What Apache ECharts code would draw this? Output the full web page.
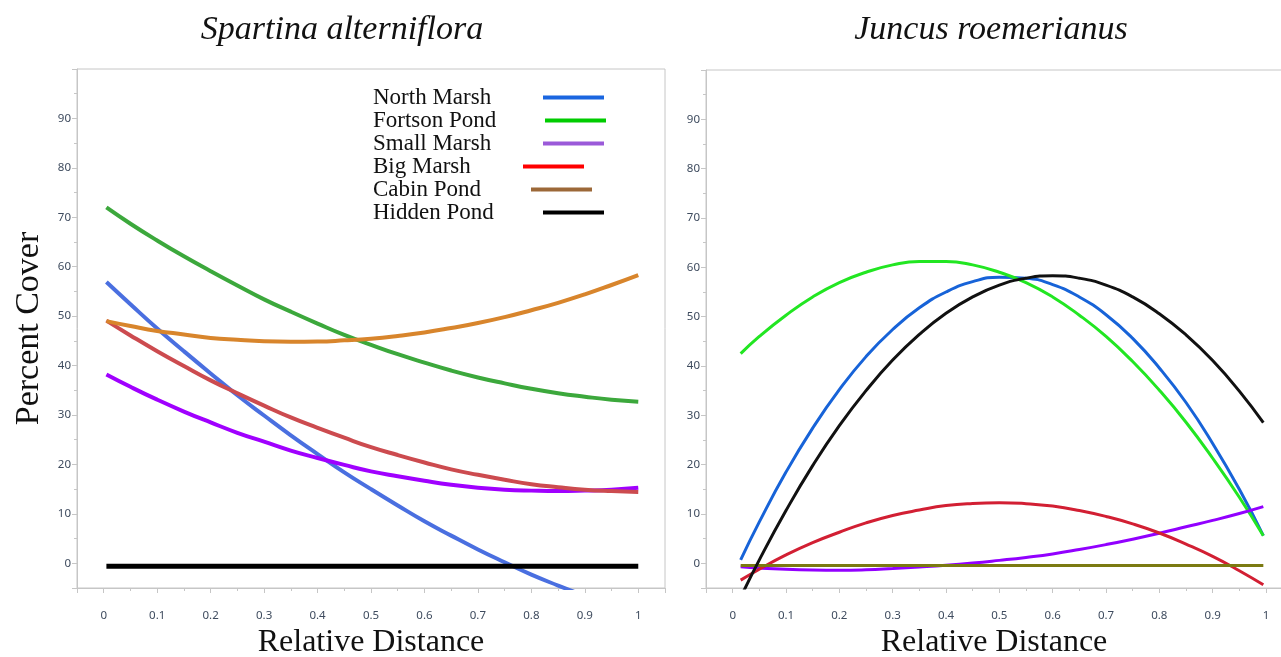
<!DOCTYPE html>
<html>
<head>
<meta charset="utf-8">
<script src="https://cdn.jsdelivr.net/npm/echarts@6/dist/echarts.min.js"></script>
<style>
html,body{margin:0;padding:0;background:#fff;}
#chart{width:1281px;height:657px;}
</style>
</head>
<body>
<div id="chart"></div>
<script>
// ---------- data ----------
const seriesNames = ['North Marsh', 'Fortson Pond', 'Small Marsh', 'Big Marsh', 'Cabin Pond', 'Hidden Pond'];

// Spartina alterniflora (left panel)
const xLeft = [0.005, 0.05, 0.1, 0.15, 0.2, 0.25, 0.3, 0.35, 0.4, 0.45, 0.5, 0.55, 0.6, 0.65, 0.7, 0.75, 0.8, 0.85, 0.9, 0.95, 1.0];
const spartinaNorthMarsh = [56.9, 52.4, 47.5, 42.9, 38.4, 34.0, 29.9, 25.9, 22.1, 18.4, 15.0, 11.7, 8.5, 5.6, 2.8, 0.2, -2.3, -4.5, -6.6, -8.6, -10.3];
const spartinaFortsonPond = [72.0, 68.7, 65.3, 62.1, 59.1, 56.2, 53.4, 50.9, 48.5, 46.2, 44.2, 42.3, 40.6, 39.0, 37.6, 36.4, 35.3, 34.4, 33.7, 33.1, 32.7];
const spartinaSmallMarsh = [38.2, 35.7, 33.1, 30.7, 28.5, 26.4, 24.6, 22.8, 21.3, 19.9, 18.6, 17.6, 16.7, 15.9, 15.3, 14.9, 14.7, 14.6, 14.7, 14.9, 15.3];
const spartinaBigMarsh = [49.1, 46.1, 42.9, 39.9, 37.0, 34.4, 31.9, 29.5, 27.4, 25.4, 23.5, 21.9, 20.4, 19.0, 17.9, 16.9, 16.0, 15.4, 14.9, 14.6, 14.4];
const spartinaCabinPond = [49.0, 48.0, 47.0, 46.3, 45.6, 45.2, 44.9, 44.8, 44.85, 45.1, 45.45, 46.0, 46.7, 47.6, 48.6, 49.8, 51.2, 52.7, 54.4, 56.3, 58.3];
const spartinaHiddenPond = [-0.6, -0.6, -0.6, -0.6, -0.6, -0.6, -0.6, -0.6, -0.6, -0.6, -0.6, -0.6, -0.6, -0.6, -0.6, -0.6, -0.6, -0.6, -0.6, -0.6, -0.6];

// Juncus roemerianus (right panel)
const xRight = [0.015, 0.05, 0.1, 0.15, 0.2, 0.25, 0.3, 0.35, 0.4, 0.45, 0.5, 0.55, 0.6, 0.65, 0.7, 0.75, 0.8, 0.85, 0.9, 0.95, 0.995];
const juncusNorthMarsh = [0.7, 8.4, 18.5, 27.4, 35.2, 41.9, 47.4, 51.8, 55.0, 57.1, 58.0, 57.8, 56.5, 54.0, 50.4, 45.6, 39.6, 32.6, 24.3, 15.0, 5.6];
const juncusFortsonPond = [42.5, 46.0, 50.3, 54.0, 56.9, 59.0, 60.5, 61.2, 61.2, 60.5, 59.0, 56.9, 54.0, 50.3, 46.0, 40.9, 35.1, 28.6, 21.3, 13.4, 5.6];
const juncusSmallMarsh = [-0.7, -0.95, -1.2, -1.35, -1.4, -1.3, -1.05, -0.75, -0.4, 0.05, 0.6, 1.2, 1.9, 2.8, 3.8, 4.9, 6.1, 7.4, 8.7, 10.1, 11.5];
const juncusBigMarsh = [-3.4, -1.2, 1.7, 4.2, 6.3, 8.2, 9.7, 10.8, 11.7, 12.15, 12.3, 12.1, 11.6, 10.7, 9.5, 8.0, 6.15, 3.9, 1.4, -1.5, -4.35];
const juncusCabinPond = [-0.45, -0.45, -0.45, -0.45, -0.45, -0.45, -0.45, -0.45, -0.45, -0.45, -0.45, -0.45, -0.45, -0.45, -0.45, -0.45, -0.45, -0.45, -0.45, -0.45, -0.45];
const juncusHiddenPond = [-6.9, 0.7, 10.7, 19.8, 27.9, 35.0, 41.2, 46.4, 50.7, 54.0, 56.4, 57.8, 58.3, 57.8, 56.4, 54.0, 50.6, 46.3, 41.1, 34.9, 28.5];

const panelTitles = ['Spartina alterniflora', 'Juncus roemerianus'];
const xAxisTitle = 'Relative Distance';
const yAxisTitle = 'Percent Cover';

// ---------- styling ----------
const leftColors = ['#4a6fe0', '#3ca83c', '#a000ff', '#cc4b4f', '#d8852c', '#000000'];
const rightColors = ['#1763d8', '#22e622', '#9200ff', '#d21f33', '#7b7a12', '#111111'];
const legendColors = ['#1a66e0', '#00cc00', '#9b5ad9', '#ff0000', '#9c6838', '#000000'];
const legendTextWidths = [170, 172, 170, 150, 158, 170];

const leftData = [spartinaNorthMarsh, spartinaFortsonPond, spartinaSmallMarsh, spartinaBigMarsh, spartinaCabinPond, spartinaHiddenPond];
const rightData = [juncusNorthMarsh, juncusFortsonPond, juncusSmallMarsh, juncusBigMarsh, juncusCabinPond, juncusHiddenPond];

const zip = (xs, ys) => xs.map((x, i) => [x, ys[i]]);

const axisColor = '#c6c6c6';
const labelColor = '#3e4b5e';
const labelFont = 'Noto Sans';

function makeX(gridIndex, maxVal) {
  return {
    type: 'value', gridIndex: gridIndex, min: -0.05, max: maxVal, splitNumber: 11,
    name: xAxisTitle, nameLocation: 'middle', nameGap: 39,
    nameTextStyle: {fontFamily: 'Liberation Serif', fontSize: 32, color: '#111'},
    axisLine: {show: true, onZero: false, lineStyle: {color: axisColor}},
    axisTick: {show: true, length: 5, lineStyle: {color: axisColor}},
    minorTick: {show: true, splitNumber: 2, length: 3, lineStyle: {color: axisColor}},
    splitLine: {show: false}, minorSplitLine: {show: false},
    axisLabel: {showMinLabel: false, showMaxLabel: false, margin: 22, fontSize: 11.5, fontFamily: labelFont, color: labelColor}
  };
}
function makeY(gridIndex, showName) {
  return {
    type: 'value', gridIndex: gridIndex, min: -5, max: 100, splitNumber: 10,
    name: showName ? yAxisTitle : '', nameLocation: 'middle', nameGap: 31, nameRotate: 90,
    nameTextStyle: {fontFamily: 'Liberation Serif', fontSize: 34, color: '#111'},
    axisLine: {show: true, onZero: false, lineStyle: {color: axisColor}},
    axisTick: {show: true, length: 5, lineStyle: {color: axisColor}},
    minorTick: {show: true, splitNumber: 2, length: 3, lineStyle: {color: axisColor}},
    splitLine: {show: false}, minorSplitLine: {show: false},
    axisLabel: {showMinLabel: false, showMaxLabel: false, margin: 6, fontSize: 11.5, fontFamily: labelFont, color: labelColor}
  };
}

const series = [];
seriesNames.forEach((name, i) => {
  series.push({
    name: name, type: 'line', xAxisIndex: 0, yAxisIndex: 0,
    data: zip(xLeft, leftData[i]), smooth: true, showSymbol: false, clip: true,
    lineStyle: {color: leftColors[i], width: name === 'Hidden Pond' ? 5 : 4},
    itemStyle: {color: leftColors[i]}, z: 2
  });
});
seriesNames.forEach((name, i) => {
  series.push({
    name: name, type: 'line', xAxisIndex: 1, yAxisIndex: 1,
    data: zip(xRight, rightData[i]), smooth: true, showSymbol: false, clip: true,
    lineStyle: {color: rightColors[i], width: 3},
    itemStyle: {color: rightColors[i]}, z: 2
  });
});

const rich = {};
seriesNames.forEach((name, i) => {
  rich['t' + i] = {width: legendTextWidths[i], align: 'left', fontFamily: 'Liberation Serif', fontSize: 23, color: '#111', lineHeight: 23};
  rich['b' + i] = {width: 61, height: 4, backgroundColor: legendColors[i], lineHeight: 23};
});

const option = {
  backgroundColor: '#ffffff',
  animation: false,
  grid: [
    {left: 77, top: 69, width: 588, height: 519, show: true, borderColor: axisColor, borderWidth: 1, containLabel: false, outerBoundsMode: 'none'},
    {left: 706, top: 70, width: 576, height: 518, show: true, borderColor: axisColor, borderWidth: 1, containLabel: false, outerBoundsMode: 'none'}
  ],
  xAxis: [makeX(0, 1.05), makeX(1, 1.03)],
  yAxis: [makeY(0, true), makeY(1, false)],
  legend: {
    orient: 'vertical', left: 368, top: 86, padding: 0, itemGap: 0,
    icon: 'none', itemWidth: 0, itemHeight: 23,
    data: seriesNames,
    formatter: function (name) {
      const i = seriesNames.indexOf(name);
      return '{t' + i + '|' + name + '}{b' + i + '| }';
    },
    textStyle: {fontFamily: 'Liberation Serif', fontSize: 23, color: '#111', lineHeight: 23, rich: rich},
    inactiveColor: '#111'
  },
  graphic: [
    {type: 'text', x: 342, y: 30, style: {text: panelTitles[0], font: 'italic 34px "Liberation Serif"', fill: '#111', textAlign: 'center', textVerticalAlign: 'middle'}},
    {type: 'text', x: 991, y: 30, style: {text: panelTitles[1], font: 'italic 34px "Liberation Serif"', fill: '#111', textAlign: 'center', textVerticalAlign: 'middle'}}
  ],
  series: series
};

const chart = echarts.init(document.getElementById('chart'), null, {renderer: 'canvas'});
chart.setOption(option);
</script>
</body>
</html>
